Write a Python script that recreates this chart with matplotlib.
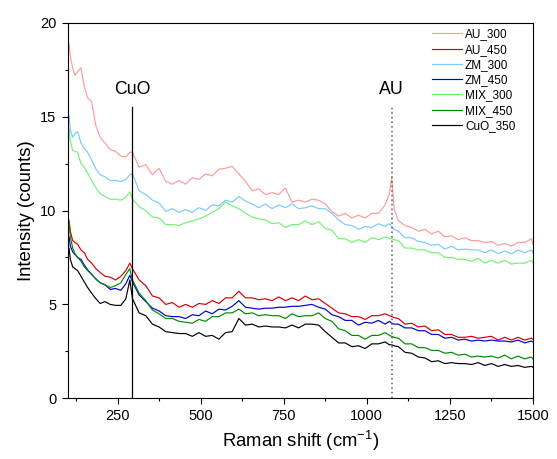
from __future__ import annotations

import matplotlib

matplotlib.use("Agg")
import matplotlib.pyplot as plt
from matplotlib.ticker import MultipleLocator

plt.rcParams["font.family"] = ["Liberation Sans", "DejaVu Sans"]
plt.rcParams["mathtext.default"] = "regular"

# Raman shift grid (cm-1)
SHIFT = [
    100, 104, 108, 115, 122, 130, 140, 150, 160, 172, 185, 198, 212, 228, 244, 260, 275, 287,
    295, 315, 335, 355, 375, 395, 415, 435, 455, 475, 495, 515, 535, 555, 575, 595, 615, 635,
    655, 675, 695, 715, 735, 755, 775, 795, 815, 835, 855, 875, 895, 915, 935, 955, 975, 995,
    1015, 1035, 1055, 1068, 1075, 1082,
    1095, 1115, 1135, 1155, 1175, 1195, 1215, 1235, 1255, 1275, 1295, 1315, 1335, 1355, 1375,
    1395, 1415, 1435, 1455, 1475, 1495, 1500,
]

AU_300 = [
    18.0, 18.9, 18.2, 17.6, 17.2, 17.4, 17.6, 16.6, 16.0, 15.8, 14.5, 13.9, 13.6, 13.25, 13.15, 12.9, 12.85, 13.1,
    13.1, 12.3, 12.45, 11.9, 12.25, 11.55, 11.4, 11.6, 11.4, 11.75, 11.65, 11.95, 11.85, 12.2, 12.25, 12.35, 11.95, 11.55,
    11.05, 11.15, 10.85, 10.95, 10.85, 11.2, 10.45, 10.55, 10.45, 10.6, 10.55, 10.35, 9.95, 9.7, 9.85, 9.6, 9.75, 9.6,
    9.85, 9.85, 10.3, 10.9, 11.8, 10.1,
    9.45, 9.2, 9.1, 8.9, 9.0, 8.75, 8.9, 8.6, 8.65, 8.45, 8.55, 8.4, 8.4, 8.3, 8.35, 8.15, 8.25, 8.1, 8.3, 8.3, 8.5, 8.2,
]

AU_450 = [
    9.1, 9.5, 8.9, 8.4, 8.3, 8.2, 7.9, 7.75, 7.4, 7.2, 6.9, 6.7, 6.5, 6.45, 6.3, 6.5, 6.8, 7.2,
    6.9, 6.3, 6.0, 5.45, 5.35, 5.0, 5.1, 4.85, 5.0, 4.85, 5.05, 5.0, 5.2, 5.05, 5.35, 5.35, 5.7, 5.35,
    5.35, 5.25, 5.3, 5.2, 5.4, 5.2, 5.35, 5.2, 5.45, 5.25, 5.3, 5.05, 4.8, 4.55, 4.5, 4.35, 4.35, 4.2,
    4.4, 4.4, 4.5, 4.4, 4.35, 4.3,
    4.25, 3.95, 4.0, 3.8, 3.85, 3.6, 3.65, 3.4, 3.4, 3.25, 3.25, 3.3, 3.2, 3.25, 3.3, 3.1, 3.25, 3.1, 3.25, 3.1, 3.2, 3.15,
]

ZM_300 = [
    14.6, 15.1, 14.3, 13.9, 14.1, 14.2, 13.6, 13.3, 13.1, 12.7, 12.2, 11.9, 11.8, 11.6, 11.6, 11.55, 11.65, 11.9,
    11.95, 11.05, 10.85, 10.55, 10.4, 9.95, 10.1, 9.9, 10.05, 9.9, 10.15, 10.0, 10.3, 10.25, 10.55, 10.45, 10.75, 10.5,
    10.35, 10.15, 10.35, 10.1, 10.3, 10.15, 10.35, 10.1, 10.15, 10.25, 10.1, 10.1, 9.85, 9.5, 9.25, 9.2, 9.0, 9.15,
    9.1, 9.3, 9.15, 9.3, 9.15, 9.0,
    8.9, 8.55, 8.55, 8.35, 8.3, 8.15, 8.2, 7.95, 8.1, 7.9, 7.95, 7.9, 7.9, 7.75, 7.9, 7.7, 7.85, 7.7, 7.9, 7.75, 7.9, 7.75,
]

ZM_450 = [
    8.3, 8.6, 8.1, 7.8, 7.65, 7.5, 7.4, 7.1, 6.85, 6.6, 6.35, 6.15, 6.05, 5.8, 5.85, 5.75, 6.1, 6.55,
    6.2, 5.5, 5.15, 4.8, 4.65, 4.4, 4.35, 4.35, 4.25, 4.45, 4.4, 4.65, 4.5, 4.75, 4.7, 4.9, 5.2, 4.85,
    4.8, 4.75, 4.8, 4.8, 4.85, 4.85, 4.9, 4.9, 4.95, 5.0, 4.85, 4.75, 4.45, 4.35, 4.15, 4.15, 3.9, 4.05,
    4.0, 4.15, 3.95, 4.1, 4.0, 3.95,
    3.95, 3.75, 3.75, 3.6, 3.6, 3.4, 3.4, 3.2, 3.25, 3.1, 3.15, 3.05, 3.1, 3.05, 3.1, 3.05, 3.05, 3.0, 3.1, 2.95, 3.05, 3.0,
]

MIX_300 = [
    14.1, 14.4, 13.7, 13.2, 13.15, 13.1, 12.5, 12.3, 12.0, 11.6, 11.2, 10.9, 10.75, 10.6, 10.6, 10.55, 10.7, 11.0,
    10.6, 10.2, 10.0, 9.65, 9.6, 9.25, 9.25, 9.2, 9.35, 9.45, 9.55, 9.7, 9.9, 10.1, 10.45, 10.25, 10.1, 9.85,
    9.65, 9.55, 9.5, 9.3, 9.35, 9.1, 9.25, 9.25, 9.45, 9.25, 9.4, 9.05, 8.95, 8.5, 8.5, 8.3, 8.45, 8.3,
    8.55, 8.45, 8.6, 8.5, 8.5, 8.45,
    8.4, 8.0, 8.0, 7.9, 7.9, 7.75, 7.75, 7.5, 7.5, 7.4, 7.4, 7.3, 7.45, 7.2, 7.35, 7.2, 7.35, 7.15, 7.2, 7.2, 7.35, 7.2,
]

MIX_450 = [
    8.7, 9.4, 8.6, 8.0, 7.7, 7.5, 7.3, 7.0, 6.8, 6.6, 6.35, 6.15, 6.05, 5.9, 6.0, 6.15, 6.6, 6.9,
    6.3, 5.6, 5.2, 4.7, 4.5, 4.25, 4.25, 4.1, 4.05, 4.0, 4.2, 4.1, 4.35, 4.35, 4.55, 4.55, 4.75, 4.5,
    4.55, 4.4, 4.45, 4.4, 4.4, 4.25, 4.5, 4.35, 4.4, 4.4, 4.55, 4.25, 4.1, 3.7, 3.6, 3.35, 3.35, 3.15,
    3.35, 3.35, 3.5, 3.35, 3.3, 3.25,
    3.2, 2.9, 2.9, 2.7, 2.7, 2.55, 2.55, 2.4, 2.45, 2.3, 2.35, 2.2, 2.25, 2.2, 2.25, 2.15, 2.3, 2.1, 2.25, 2.1, 2.2, 2.1,
]

CUO_350 = [
    7.7, 8.0, 7.4, 7.0, 6.9, 6.8, 6.5, 6.2, 5.9, 5.6, 5.3, 5.05, 5.15, 5.0, 4.95, 4.95, 5.3, 6.3,
    5.3, 4.55, 4.4, 3.95, 3.8, 3.55, 3.5, 3.45, 3.45, 3.3, 3.5, 3.3, 3.35, 3.15, 3.5, 3.55, 4.25, 3.9,
    3.95, 3.8, 3.85, 3.8, 3.8, 3.75, 3.9, 3.75, 3.95, 3.95, 3.9, 3.55, 3.25, 2.95, 2.95, 2.75, 2.8, 2.65,
    2.9, 2.9, 3.0, 2.85, 2.85, 2.8,
    2.75, 2.45, 2.4, 2.2, 2.15, 1.95, 2.0, 1.85, 1.9, 1.85, 1.85, 1.8, 1.9, 1.75, 1.85, 1.7, 1.8, 1.7, 1.75, 1.65, 1.7, 1.65,
]

SERIES = [
    ("AU_300", AU_300, "#ff9a9a"),
    ("AU_450", AU_450, "#d40000"),
    ("ZM_300", ZM_300, "#7cc8ff"),
    ("ZM_450", ZM_450, "#0000cc"),
    ("MIX_300", MIX_300, "#72f272"),
    ("MIX_450", MIX_450, "#008c00"),
    ("CuO_350", CUO_350, "#000000"),
]

CUO_PEAK = 294
AU_PEAK = 1075
MARK_TOP = 15.5


def main() -> None:
    fig = plt.figure(figsize=(5.57, 4.59), dpi=100)
    ax = fig.add_axes([0.1215, 0.1322, 0.8354, 0.8183])

    for label, values, color in SERIES:
        ax.plot(SHIFT, values, color=color, lw=0.85, label=label)

    ax.plot([CUO_PEAK, CUO_PEAK], [0, MARK_TOP], color="black", lw=0.9)
    ax.plot([AU_PEAK, AU_PEAK], [0, MARK_TOP], color="#555555", lw=1.1, ls=(0, (1, 2)))
    ax.text(CUO_PEAK, 16.0, "CuO", ha="center", va="bottom", fontsize=12.8)
    ax.text(AU_PEAK, 16.0, "AU", ha="center", va="bottom", fontsize=12.8)

    ax.set_xlim(100, 1500)
    ax.set_ylim(0, 20)
    ax.xaxis.set_major_locator(MultipleLocator(250))
    ax.xaxis.set_minor_locator(MultipleLocator(125))
    ax.yaxis.set_major_locator(MultipleLocator(5))
    ax.yaxis.set_minor_locator(MultipleLocator(2.5))
    ax.tick_params(which="major", direction="out", length=4.5, width=0.8, labelsize=10.5)
    ax.tick_params(which="minor", direction="out", length=2.3, width=0.8)
    for spine in ax.spines.values():
        spine.set_linewidth(0.8)

    ax.set_xlabel("Raman shift (cm$^{-1}$)", fontsize=13.3)
    ax.set_ylabel("Intensity (counts)", fontsize=13.3)

    ax.legend(
        loc="upper left",
        bbox_to_anchor=(0.783, 0.985),
        frameon=False,
        fontsize=8.5,
        handlelength=2.5,
        handletextpad=0.3,
        labelspacing=0.28,
        borderpad=0,
        borderaxespad=0,
    )

    fig.savefig("out.png", dpi=100)
    plt.close(fig)


if __name__ == "__main__":
    main()
